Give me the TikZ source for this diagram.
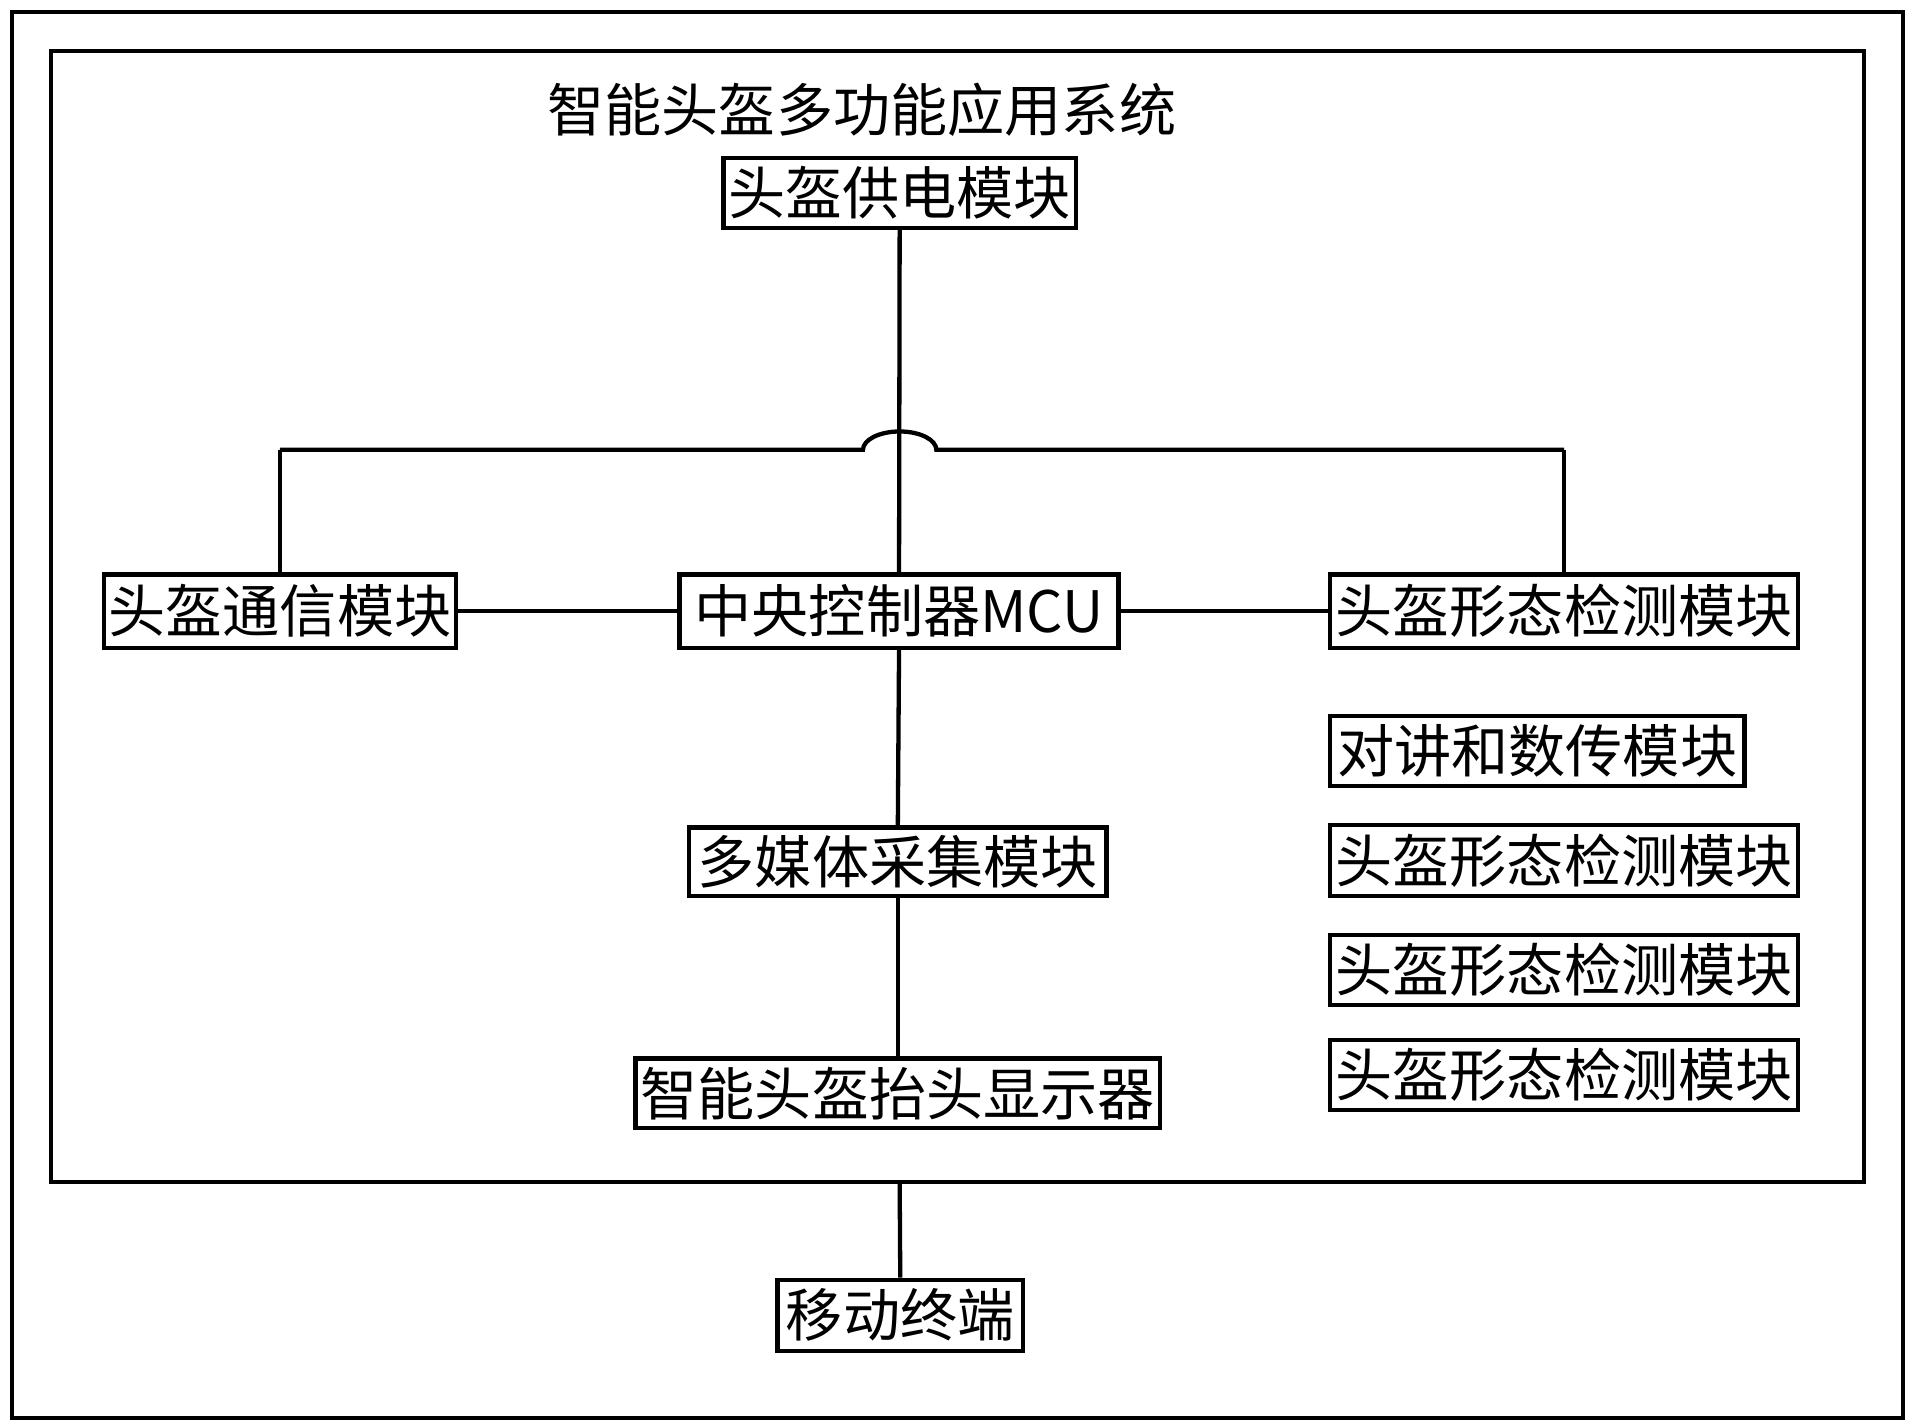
\documentclass[tikz,border=0pt]{standalone}
\usepackage{fontspec}
\setmainfont{Noto Sans CJK SC}
\begin{document}
\begin{tikzpicture}[x=0.01cm,y=-0.01cm,
 box/.style={draw,line width=1pt,inner sep=0pt,font=\fontsize{13.3}{14}\selectfont},
 ln/.style={line width=1pt}]
\useasboundingbox (0,0) rectangle (1565,1165);
\draw[ln] (10,10) rectangle (1557,1160);
\draw[ln] (42,42) rectangle (1525,967);
\node[font=\fontsize{13.3}{14}\selectfont] (title) at (705,90) {智能头盔多功能应用系统};
\node[box,minimum width=2.88cm,minimum height=0.57cm] (pw) at (736,158) {头盔供电模块};
\node[box,minimum width=2.88cm,minimum height=0.60cm] (com) at (229,500) {头盔通信模块};
\node[box,minimum width=3.59cm,minimum height=0.60cm] (mcu) at (735.5,500) {中央控制器MCU};
\node[box,minimum width=3.83cm,minimum height=0.60cm] (st1) at (1279.5,500) {头盔形态检测模块};
\node[box,minimum width=3.39cm,minimum height=0.57cm] (dj) at (1257.5,614.5) {对讲和数传模块};
\node[box,minimum width=3.83cm,minimum height=0.58cm] (st2) at (1279.5,704) {头盔形态检测模块};
\node[box,minimum width=3.83cm,minimum height=0.57cm] (st3) at (1279.5,793.5) {头盔形态检测模块};
\node[box,minimum width=3.83cm,minimum height=0.57cm] (st4) at (1279.5,879.5) {头盔形态检测模块};
\node[box,minimum width=3.41cm,minimum height=0.56cm] (mm) at (734.5,705) {多媒体采集模块};
\node[box,minimum width=4.29cm,minimum height=0.57cm] (hud) at (734.5,894.5) {智能头盔抬头显示器};
\node[box,minimum width=2.01cm,minimum height=0.58cm] (mt) at (736.5,1076) {移动终端};
\coordinate (ib) at (736,967);
\draw[ln] (pw.south) -- (mcu.north);
\draw[ln] (com.north |- 0,368) coordinate (l) -- (com.north);
\draw[ln] (st1.north |- 0,368) coordinate (r) -- (st1.north);
\draw[ln] (l) -- (706,368) arc[start angle=180,end angle=0,x radius=30,y radius=-15] -- (r);
\draw[ln] (com.east) -- (mcu.west);
\draw[ln] (mcu.east) -- (st1.west);
\draw[ln] (mcu.south) -- (mm.north);
\draw[ln] (mm.south) -- (hud.north);
\draw[ln] (ib) -- (mt.north);
\end{tikzpicture}
\end{document}
